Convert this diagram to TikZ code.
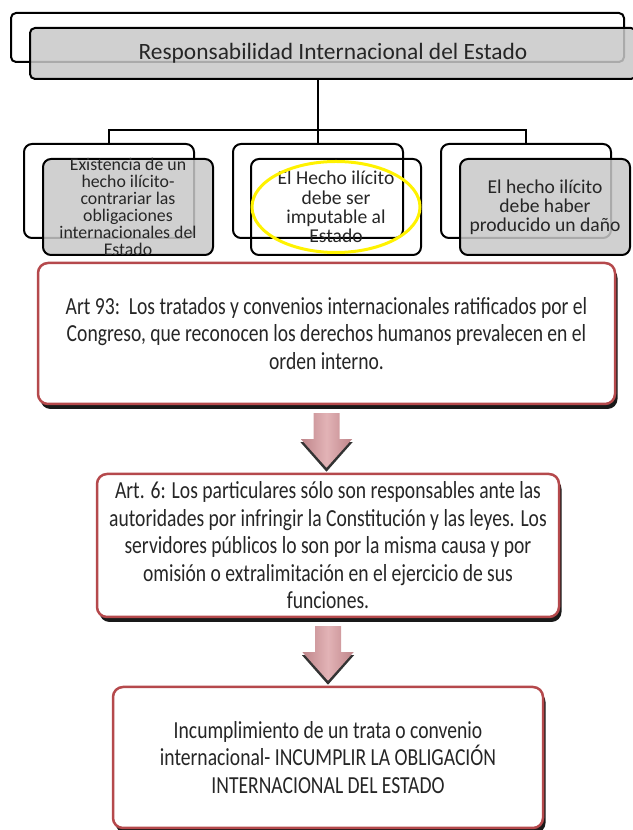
\documentclass[tikz,border=0pt]{standalone}
\usepackage{fontspec}
\setmainfont{Carlito}
\newfontfamily\narrowfont{Carlito}[FakeStretch=0.8]
\usetikzlibrary{shapes.geometric,shadows,calc}
\definecolor{cInk}{HTML}{262626}
\definecolor{cGry}{HTML}{C8C8C8}
\definecolor{cRed}{HTML}{B5494C}
\definecolor{cArr}{HTML}{E2B3B6}
\definecolor{cArrD}{HTML}{BF858A}
\definecolor{cYel}{HTML}{FFF200}

\begin{document}
\begin{tikzpicture}[x=1pt, y=1pt, text=cInk, line width=2pt,
  frame/.style={draw=black, rounded corners=#1, inner sep=0pt},
  card/.style={draw=black, rounded corners=8pt, inner sep=0pt, minimum width=170pt, minimum height=96pt, fill=#1, fill opacity=.85},
  ltxt/.style={align=center, inner sep=0pt, font=\fontsize{19.6}{19.2}\selectfont},
  artbox/.style={draw=cRed, line width=2.5pt, rounded corners=10pt, fill=white, align=center, inner sep=2pt,
    font=\narrowfont\fontsize{24.5}{27.5}\selectfont, drop shadow={shadow xshift=2.5pt, shadow yshift=-5pt, fill=black, opacity=.9}}]
  \useasboundingbox (0,0) rectangle (632,830);
  \node[frame=5pt, minimum width=613pt, minimum height=49pt] (tb) at (317.5,792.5) {};
  \node[card=cGry, rounded corners=5pt, text opacity=1, minimum width=606pt, minimum height=51pt,
        font=\fontsize{23.4}{28}\selectfont] (tf) at (333,776.5) {Responsabilidad Internacional del Estado};
  \foreach \n/\x in {b1/109,b2/318,b3/526}
    \node[frame=8pt, minimum width=170pt, minimum height=94pt] (\n) at (\x,639) {};
  \node[card=cGry] (f1) at (128,623) {};
  \node[card=none] (f2) at (336,623) {};
  \node[card=cGry] (f3) at (545,623) {};
  \coordinate (hub) at (318,700);
  \draw (tf.south -| hub) -- (b2.north);
  \draw (b1.north) |- (hub) -| (b3.north);
  \node[ltxt, font=\fontsize{17.8}{17}\selectfont] at (f1) {Existencia de un\\hecho ilícito-\\contrariar las\\obligaciones\\internacionales del\\Estado};
  \node[ltxt] at (f2) {El Hecho ilícito\\debe ser\\imputable al\\Estado};
  \node[ltxt] at (f3) {El hecho ilícito\\debe haber\\producido un daño};
  \node[draw=cYel, line width=3pt, ellipse, inner sep=0pt, minimum width=168pt, minimum height=91pt] (mark) at (f2) {};
  \node[artbox, minimum width=577pt, minimum height=141pt] (art1) at (326.5,496.5)
       {Art 93:\ \ Los tratados y convenios internacionales ratificados por el\\Congreso, que reconocen los derechos humanos prevalecen en el\\orden interno.};
  \node[artbox, minimum width=462pt, minimum height=143pt] (art2) at (328,284.5)
       {Art. 6: Los particulares sólo son responsables ante las\\autoridades por infringir la Constitución y las leyes. Los\\servidores públicos lo son por la misma causa y por\\omisión o extralimitación en el ejercicio de sus\\funciones.};
  \node[artbox, minimum width=430pt, minimum height=141pt] (art3) at (328,72.5)
       {Incumplimiento de un trata o convenio\\internacional- INCUMPLIR LA OBLIGACIÓN\\INTERNACIONAL DEL ESTADO};
  \foreach \u/\v in {art1/art2,art2/art3}{
    \fill[black, opacity=.8] ($(\u.south)+(-26,-37)$) -- ($(\u.south |- \v.north)+(0,1)$) -- ($(\u.south)+(26,-37)$) -- cycle;
    \shade[left color=cArrD, right color=cArrD, middle color=cArr]
      ($(\u.south)+(-13,-8)$) -- ($(\u.south)+(13,-8)$) -- ($(\u.south)+(13,-34)$) -- ($(\u.south)+(25.5,-34)$)
      -- ($(\u.south |- \v.north)+(0,5)$) -- ($(\u.south)+(-25.5,-34)$) -- ($(\u.south)+(-13,-34)$) -- cycle;}
\end{tikzpicture}
\end{document}
